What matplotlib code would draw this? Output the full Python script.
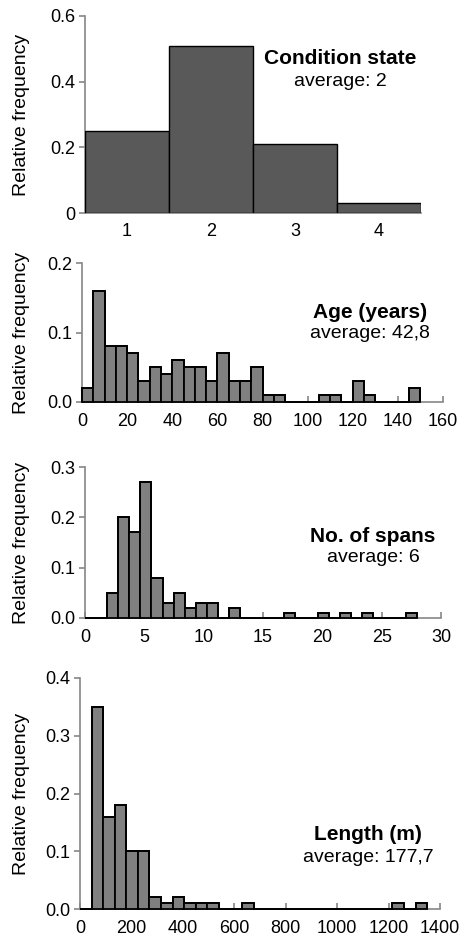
import matplotlib
matplotlib.use("Agg")
import matplotlib.pyplot as plt
from matplotlib.ticker import FormatStrFormatter

plt.rcParams["font.family"] = ["Liberation Sans", "DejaVu Sans"]
plt.rcParams["font.size"] = 13

# ---------------------- data ----------------------
cond_states = [1, 2, 3, 4]
cond_freq = [0.25, 0.51, 0.21, 0.03]

age_bin_start, age_bin_width = 0, 5
age_freq = [0.02, 0.16, 0.08, 0.08, 0.07, 0.03, 0.05, 0.04, 0.06, 0.05,
            0.05, 0.03, 0.07, 0.03, 0.03, 0.05, 0.01, 0.01, 0.0, 0.0,
            0.0, 0.01, 0.01, 0.0, 0.03, 0.01, 0.0, 0.0, 0.0, 0.02]

span_bin_start, span_bin_width = 0, 28 / 30
span_freq = [0.0, 0.0, 0.05, 0.20, 0.17, 0.27, 0.08, 0.03, 0.05, 0.02,
             0.03, 0.03, 0.0, 0.02, 0.0, 0.0, 0.0, 0.0, 0.01, 0.0,
             0.0, 0.01, 0.0, 0.01, 0.0, 0.01, 0.0, 0.0, 0.0, 0.01]

len_bin_start, len_bin_width = 0, 45
len_freq = [0.0, 0.35, 0.16, 0.18, 0.10, 0.10, 0.02, 0.01, 0.02, 0.01,
            0.01, 0.01, 0.0, 0.0, 0.01, 0.0, 0.0, 0.0, 0.0, 0.0,
            0.0, 0.0, 0.0, 0.0, 0.0, 0.0, 0.0, 0.01, 0.0, 0.01]

titles = ["Condition state", "Age (years)", "No. of spans", "Length (m)"]
averages = ["average: 2", "average: 42,8", "average: 6", "average: 177,7"]

# ---------------------- layout (pixels) ----------------------
W, H = 459, 939
fig = plt.figure(figsize=(W / 100, H / 100), dpi=100)

def px_axes(left, right, top, bottom):
    return fig.add_axes([left / W, (H - bottom) / H, (right - left) / W, (bottom - top) / H])

SPINE = "#868686"

def style(ax, top, bottom, xticks_in=True):
    for s in ["top", "right"]:
        ax.spines[s].set_visible(False)
    for s in ["left", "bottom"]:
        ax.spines[s].set_color(SPINE)
        ax.spines[s].set_linewidth(1.2)
    ax.tick_params(axis="y", direction="out", length=4, width=1.2, color=SPINE, pad=3)
    if xticks_in:
        ax.tick_params(axis="x", direction="in", length=4, width=1.2, color=SPINE, pad=8)
    ax.set_ylabel("Relative frequency", fontsize=14)
    ax.yaxis.set_label_coords(22 / W, 1 - (top + bottom) / 2 / H, transform=fig.transFigure)
    ax.yaxis.label.set_va("center")

def label(x, y, title, avg):
    fig.text(x / W, 1 - y / H, title, ha="center", va="center",
             fontweight="bold", fontsize=15)
    fig.text(x / W, 1 - (y + 22) / H, avg, ha="center", va="center", fontsize=14)

def hist(ax, start, width, freq):
    edges = [start + i * width for i in range(len(freq) + 1)]
    ax.bar(edges[:-1], freq, width=width, align="edge", color="#808080",
           edgecolor="black", linewidth=1.3, zorder=3, clip_on=False)
    ax.stairs(freq, edges, baseline=0, color="black", linewidth=1.3,
              zorder=4, clip_on=False)

# ---------------------- panel 1: condition state ----------------------
ax1 = px_axes(85, 421, 16, 213)
ax1.bar(cond_states, cond_freq, width=1.0, color="#595959", edgecolor="black",
        linewidth=1.0, zorder=3)
ax1.set_xlim(0.5, 4.5)
ax1.set_ylim(0, 0.6)
ax1.set_yticks([0, 0.2, 0.4, 0.6])
ax1.set_yticklabels(["0", "0.2", "0.4", "0.6"])
ax1.set_xticks(cond_states)
style(ax1, 16, 213, xticks_in=False)
ax1.tick_params(axis="x", length=0, pad=7)
label(340, 59, titles[0], averages[0])

# ---------------------- panel 2: age ----------------------
ax2 = px_axes(82, 443, 263, 402)
hist(ax2, age_bin_start, age_bin_width, age_freq)
ax2.set_xlim(0, 160)
ax2.set_ylim(0, 0.2)
ax2.set_xticks(range(0, 161, 20))
ax2.set_yticks([0, 0.1, 0.2])
ax2.yaxis.set_major_formatter(FormatStrFormatter("%.1f"))
style(ax2, 263, 402)
label(370, 312, titles[1], averages[1])

# ---------------------- panel 3: spans ----------------------
ax3 = px_axes(85, 441, 467, 618)
hist(ax3, span_bin_start, span_bin_width, span_freq)
ax3.set_xlim(0, 30)
ax3.set_ylim(0, 0.3)
ax3.set_xticks(range(0, 31, 5))
ax3.set_yticks([0, 0.1, 0.2, 0.3])
ax3.yaxis.set_major_formatter(FormatStrFormatter("%.1f"))
style(ax3, 467, 618)
label(373, 536, titles[2], averages[2])

# ---------------------- panel 4: length ----------------------
ax4 = px_axes(80, 440, 678, 909)
hist(ax4, len_bin_start, len_bin_width, len_freq)
ax4.set_xlim(0, 1400)
ax4.set_ylim(0, 0.4)
ax4.set_xticks(range(0, 1401, 200))
ax4.set_yticks([0, 0.1, 0.2, 0.3, 0.4])
ax4.yaxis.set_major_formatter(FormatStrFormatter("%.1f"))
style(ax4, 678, 909)
label(368, 835, titles[3], averages[3])

fig.savefig("out.png", dpi=100)
